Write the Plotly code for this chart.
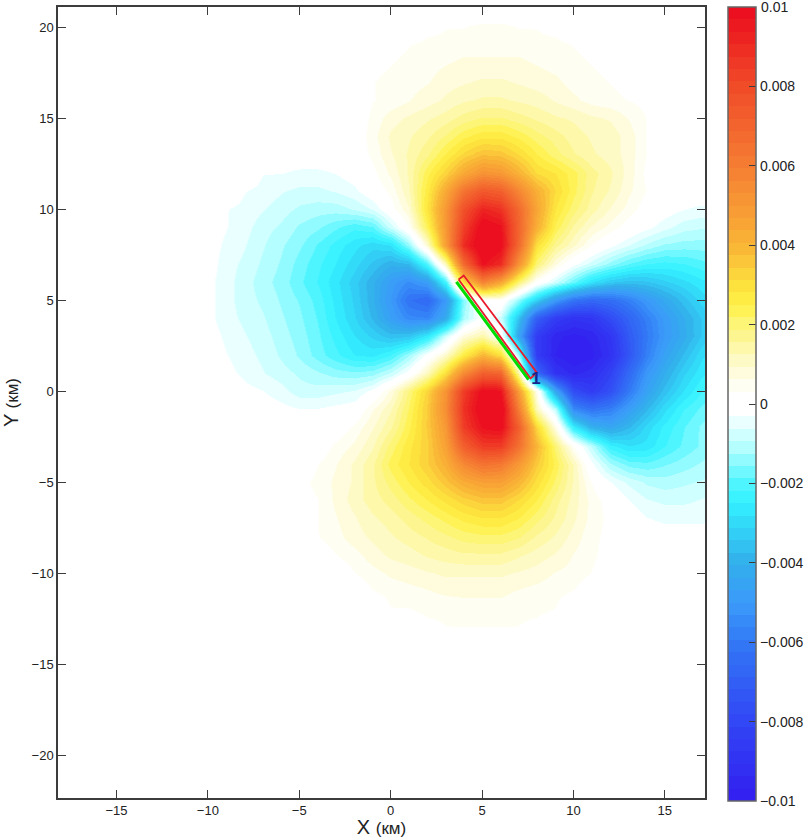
import plotly.graph_objects as go

x_km = list(range(-11, 19))
y_km = list(range(21, -15, -1))

# displacement, in units of 1e-4 (one row per y_km, one column per x_km)
rows = [
 [0]*30,
 [0]*13 + [2,3,3,4,4,3,3,2] + [0]*9,
 [0]*11 + [2,3,4,4,5,5,5,5,4,4,3,2] + [0]*7,
 [0]*10 + [2,3,4,5,6,7,7,7,7,6,5,4,3,2] + [0]*6,
 [0]*10 + [3,4,5,6,8,9,10,10,9,8,7,5,4,3,2] + [0]*5,
 [0]*10 + [3,4,6,8,10,12,13,13,12,11,9,7,5,4,3,2] + [0]*4,
 [0]*10 + [4,8,10,12,14,17,19,19,17,15,13,12,10,9,6,3] + [0]*4,
 [0]*10 + [5,10,12,15,19,24,27,27,24,20,17,14,12,11,8,3] + [0]*4,
 [0]*10 + [4,9,13,18,25,32,37,36,31,25,20,16,13,11,8,3] + [0]*4,
 [0,0,0,0,-3,-3,-4,-4,-3,-1,2,7,13,24,33,44,52,50,41,31,28,23,17,13,8,2,0,0,0,0],
 [0,0,0,-3,-4,-6,-7,-7,-6,-4,0,4,12,27,44,64,75,72,57,42,31,23,16,12,7,3,0,0,0,0],
 [0,0,-3,-4,-6,-8,-10,-11,-11,-9,-6,1,9,29,50,78,92,88,68,45,28,20,14,9,5,1,-1,-3,-4,-4],
 [0,0,-3,-5,-8,-10,-13,-15,-18,-21,-19,-8,3,24,50,84,102,98,70,42,24,15,9,5,1,-2,-5,-8,-9,-8],
 [0,-1,-4,-6,-9,-12,-15,-19,-23,-27,-30,-28,-14,10,48,90,105,100,68,30,17,10,3,-2,-6,-10,-13,-14,-14,-13],
 [0,-1,-5,-7,-10,-13,-17,-21,-25,-30,-35,-40,-38,-20,12,68,98,90,52,20,7,-2,-8,-14,-19,-22,-23,-22,-20,-18],
 [0,-2,-5,-8,-11,-14,-18,-22,-27,-33,-40,-48,-54,-48,-22,30,58,45,20,2,-8,-18,-28,-34,-36,-35,-32,-29,-26,-23],
 [0,-2,-5,-8,-10,-13,-16,-20,-26,-32,-40,-50,-62,-66,-50,-15,3,3,-14,-32,-50,-62,-66,-64,-58,-50,-43,-36,-30,-26],
 [0,-2,-5,-7,-9,-12,-15,-19,-25,-31,-38,-47,-55,-56,-42,-12,0,-8,-35,-70,-85,-90,-88,-78,-68,-58,-49,-41,-34,-29],
 [0,-1,-4,-6,-8,-11,-14,-18,-23,-28,-32,-36,-35,-26,-8,8,14,2,-45,-85,-96,-98,-96,-88,-72,-60,-50,-42,-34,-29],
 [0,0,-3,-5,-7,-10,-13,-17,-21,-25,-26,-22,-13,-1,10,26,40,30,-12,-85,-97,-100,-98,-90,-74,-58,-46,-37,-29,-25],
 [0,0,-2,-4,-6,-8,-10,-12,-14,-15,-14,-9,-1,12,30,55,72,70,14,-65,-90,-95,-92,-82,-66,-51,-41,-32,-26,-22],
 [0,0,0,-2,-3,-5,-8,-8,-7,-6,-2,7,19,33,52,85,100,98,48,5,-45,-78,-85,-76,-60,-46,-36,-28,-22,-18],
 [0,0,0,0,-1,-2,-3,-3,-2,-1,6,12,22,35,54,88,103,105,60,12,-10,-55,-62,-58,-48,-38,-29,-22,-18,-15],
 [0]*9 + [4,9,15,24,35,50,85,98,100,72,32,6,-25,-40,-44,-38,-30,-24,-19,-15,-12],
 [0]*8 + [4,7,12,20,27,34,47,72,85,85,65,40,20,3,-10,-24,-28,-27,-22,-18,-15,-12],
 [0]*7 + [3,6,10,15,23,28,34,42,56,64,62,50,35,24,12,-2,-12,-17,-18,-16,-14,-12,-10],
 [0]*6 + [2,4,7,10,15,20,25,30,36,43,47,47,40,30,21,12,3,-3,-7,-10,-11,-10,-9,-8],
 [0]*6 + [2,3,7,11,14,17,21,25,29,33,36,36,31,25,17,11,5,1,-3,-6,-7,-7,-6,-5],
 [0]*7 + [3,6,9,12,14,17,20,23,26,28,28,25,20,15,10,5,2,0,-3,-4,-4,-4,-3],
 [0]*7 + [3,5,8,10,12,14,16,18,20,21,21,19,15,12,8,4,2,0,0,-1,-1,-1,0],
 [0]*8 + [3,5,8,10,11,13,14,15,15,15,13,11,9,6,4,1] + [0]*6,
 [0]*9 + [3,5,7,8,9,10,10,10,10,9,8,6,5,3] + [0]*7,
 [0]*10 + [3,4,5,6,7,7,7,7,6,5,4,3] + [0]*8,
 [0]*11 + [3,3,4,4,5,5,5,4,4,3] + [0]*9,
 [0]*13 + [2,3,3,3,3,3,2] + [0]*10,
 [0]*30,
]
assert len(rows) == len(y_km), (len(rows), len(y_km))
for r in rows:
    assert len(r) == 30, len(r)
z_vals = [[v * 1e-4 for v in r] for r in rows]

x_ticks = [-15, -10, -5, 0, 5, 10, 15]
y_ticks = [-20, -15, -10, -5, 0, 5, 10, 15, 20]
cbar_ticks = [-0.01, -0.008, -0.006, -0.004, -0.002, 0, 0.002, 0.004, 0.006, 0.008]
cbar_labels = ["\u22120.01", "\u22120.008", "\u22120.006", "\u22120.004", "\u22120.002", "0",
               "0.002", "0.004", "0.006", "0.008"]
cbar_top_label = "0.01"

fault_x = [3.6, 7.55]
fault_y = [6.0, 0.63]
patch_x = [3.72, 4.0, 7.99, 7.66, 3.72]
patch_y = [6.13, 6.35, 1.02, 0.69, 6.13]

anchors = [
 (-0.01, (50, 30, 240)), (-0.008, (50, 70, 245)), (-0.006, (50, 120, 245)), (-0.005, (60, 155, 250)),
 (-0.004, (50, 175, 235)), (-0.0025, (50, 240, 255)), (-0.002, (80, 245, 255)), (-0.001, (190, 255, 255)),
 (-0.0005, (230, 255, 255)), (-0.0003, (255, 255, 255)), (0.0003, (255, 255, 255)), (0.001, (254, 250, 205)),
 (0.002, (252, 245, 120)), (0.0025, (255, 240, 70)), (0.003, (253, 225, 60)), (0.004, (250, 180, 55)),
 (0.006, (245, 125, 50)), (0.008, (240, 75, 40)), (0.01, (235, 10, 30)),
]

def col_at(v):
    for (a, ca), (b, cb) in zip(anchors, anchors[1:]):
        if a <= v <= b:
            t = (v - a) / (b - a)
            return tuple(round(p + (q - p) * t) for p, q in zip(ca, cb))
    return anchors[-1][1]

N = 64
scale = []
for i in range(N):
    mid = -0.01 + 0.02 * (i + 0.5) / N
    c = "rgb(%d,%d,%d)" % col_at(mid)
    scale.append([i / N, c])
    scale.append([(i + 1) / N, c])

INK = "#3c3c3c"
FONT = "Liberation Sans"
L, R, T, B = 58, 100, 7, 40
W, H = 805, 838
plot_h = H - T - B
plot_w = W - L - R

fig = go.Figure()
fig.add_trace(go.Heatmap(
    x=x_km, y=y_km, z=z_vals, zmin=-0.01, zmax=0.01, zsmooth="best",
    colorscale=scale,
    colorbar=dict(
        x=(728 - L) / plot_w, xanchor="left", xpad=0, ypad=0,
        y=1, yanchor="top", lenmode="fraction", len=794 / plot_h,
        thickness=28, thicknessmode="pixels",
        outlinecolor="#666666", outlinewidth=1.5,
        tickmode="array", tickvals=cbar_ticks, ticktext=cbar_labels,
        ticks="inside", ticklen=7, tickcolor=INK, tickwidth=1,
        tickfont=dict(family=FONT, size=14, color="#222222"),
    ),
))
fig.add_trace(go.Scatter(x=fault_x, y=fault_y, mode="lines",
                         line=dict(color="#00dd00", width=3.2), showlegend=False, hoverinfo="skip"))
fig.add_trace(go.Scatter(x=patch_x, y=patch_y, mode="lines",
                         line=dict(color="#e81c2c", width=1.8), showlegend=False, hoverinfo="skip"))
fig.add_trace(go.Scatter(x=[7.95], y=[0.6], mode="text", text=["<b>1</b>"],
                         textfont=dict(family=FONT, size=17, color="#14278c"),
                         showlegend=False, hoverinfo="skip"))

axis_common = dict(
    showgrid=False, zeroline=False, showline=True, linecolor=INK, linewidth=1.5,
    ticks="inside", ticklen=8, tickcolor=INK, tickwidth=1, mirror="ticks",
    tickfont=dict(family=FONT, size=13, color="#222222"),
)
label = lambda a: a + ' <span style="font-size:17px">(\u043a\u043c)</span>'
fig.update_layout(
    width=W, height=H, margin=dict(l=L, r=R, t=T, b=B, autoexpand=False),
    paper_bgcolor="white", plot_bgcolor="white", showlegend=False,
    xaxis=dict(axis_common, range=[-18.2, 17.2], tickvals=x_ticks,
               title=dict(text=label("X"), font=dict(family=FONT, size=20, color="#222222"), standoff=6)),
    yaxis=dict(axis_common, range=[-22.36, 21.1], tickvals=y_ticks,
               title=dict(text=label("Y"), font=dict(family=FONT, size=20, color="#222222"), standoff=10)),
    annotations=[dict(xref="paper", yref="paper", x=(759 - L) / plot_w, y=1, xanchor="left", yanchor="middle",
                      text=cbar_top_label, showarrow=False, xshift=0, yshift=0,
                      font=dict(family=FONT, size=14, color="#222222"))],
)
# left-hand colour bar ticks, matching the right-hand ones
for v in cbar_ticks[1:]:
    yp = 1 - (7 + (0.01 - v) / 0.02 * 794 - T) / plot_h
    fig.add_shape(type="line", xref="paper", yref="paper", layer="above",
                  x0=(728 - L) / plot_w, x1=(735 - L) / plot_w, y0=yp, y1=yp,
                  line=dict(color=INK, width=1))
fig.write_html("out.html", config={"displayModeBar": False},
               post_script="document.body.style.margin='0';")
